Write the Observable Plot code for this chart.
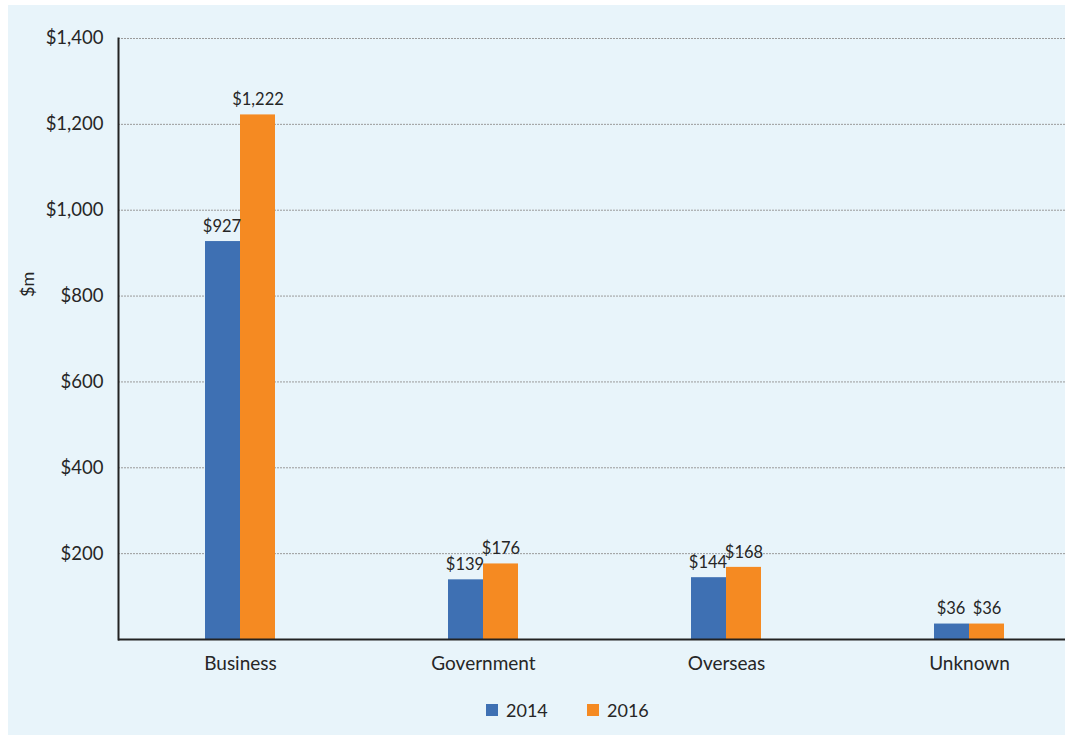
<!DOCTYPE html>
<html>
<head>
<meta charset="utf-8">
<script src="https://cdn.jsdelivr.net/npm/d3@7"></script>
<script src="https://cdn.jsdelivr.net/npm/@observablehq/plot@0.6"></script>
<style>
  html, body { margin: 0; padding: 0; background: #ffffff; }
  #wrap { position: relative; width: 1067px; height: 737px; overflow: hidden; font-family: Lato, "Open Sans", sans-serif; }
  #bg { position: absolute; left: 8px; top: 5px; width: 1057px; height: 730px; background: #e8f4fa; }
  #chart { position: absolute; left: 0; top: 0; }
  #chart svg { background: transparent !important; }
  #legend { position: absolute; top: 699px; left: 0; width: 1067px; height: 22px; font-size: 18px; color: #262626; }
  .item { position: absolute; top: 0; display: flex; align-items: center; height: 22px; }
  .sw { width: 12px; height: 12px; margin-right: 8px; }
</style>
</head>
<body>
<div id="wrap">
  <div id="bg"></div>
  <div id="chart"></div>
  <div id="legend"></div>
</div>
<script>
const categories = ["Business", "Government", "Overseas", "Unknown"];
const values2014 = [927, 139, 144, 36];
const values2016 = [1222, 176, 168, 36];
const seriesNames = ["2014", "2016"];
const seriesColors = ["#3e70b3", "#f58a22"];
const yTicks = [200, 400, 600, 800, 1000, 1200, 1400];

const rows2014 = categories.map((c, i) => ({category: c, value: values2014[i]}));
const rows2016 = categories.map((c, i) => ({category: c, value: values2016[i]}));
const fmt = d => "$" + d3.format(",")(d);

const chart = Plot.plot({
  width: 1067,
  height: 680,
  marginLeft: 118,
  marginRight: 2,
  marginTop: 38,
  marginBottom: 41,
  style: {background: "transparent", color: "#262626", fontFamily: "Lato, 'Open Sans', sans-serif"},
  x: {domain: categories, range: [118, 1090], paddingInner: 0.712, paddingOuter: 0.356, align: 0.5},
  y: {domain: [0, 1400], range: [639, 38]},
  marks: [
    Plot.ruleY(yTicks, {stroke: "#9a9a9a", strokeWidth: 1, strokeDasharray: "2,1"}),
    Plot.barY(rows2014, {x: "category", y: "value", fill: seriesColors[0], insetRight: 35}),
    Plot.barY(rows2016, {x: "category", y: "value", fill: seriesColors[1], insetLeft: 35}),
    Plot.text(rows2014, {x: "category", y: "value", text: d => fmt(d.value), dx: -18.5, dy: -15, fontSize: 16.5, fill: "#262626"}),
    Plot.text(rows2016, {x: "category", y: "value", text: d => fmt(d.value), dx: 17.5, dy: -15, fontSize: 16.5, fill: "#262626"}),
    Plot.ruleY([0], {stroke: "#222", strokeWidth: 2}),
    Plot.frame({anchor: "left", stroke: "#222", strokeWidth: 2}),
    Plot.axisY(yTicks, {tickSize: 0, tickPadding: 15, tickFormat: fmt, fontSize: 18.5, label: null}),
    Plot.axisX({tickSize: 0, tickPadding: 17, fontSize: 19, label: null}),
    Plot.text(["$m"], {frameAnchor: "left", dx: -90, dy: -42, rotate: -90, fontSize: 18, fill: "#262626"})
  ]
});
document.getElementById("chart").appendChild(chart);

const legend = document.getElementById("legend");
const lefts = [486, 587];
seriesNames.forEach((name, i) => {
  const it = document.createElement("div");
  it.className = "item";
  it.style.left = lefts[i] + "px";
  it.innerHTML = `<div class="sw" style="background:${seriesColors[i]}"></div><span>${name}</span>`;
  legend.appendChild(it);
});
</script>
</body>
</html>
